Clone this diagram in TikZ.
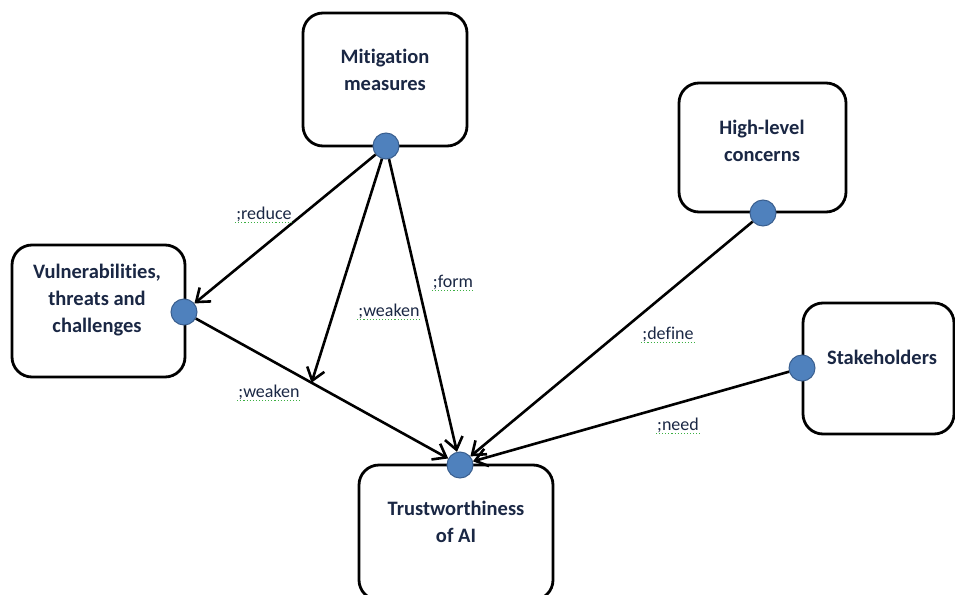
\documentclass[tikz,border=0pt]{standalone}
\usepackage{fontspec}
\setmainfont{Carlito}[Ligatures=NoCommon]
\usetikzlibrary{arrows.meta,calc}
\definecolor{txt}{HTML}{1A2744}
\definecolor{dotfill}{HTML}{4F81BD}
\definecolor{dotline}{HTML}{3A5F8F}
\definecolor{spell}{HTML}{3CB043}
\begin{document}
\begin{tikzpicture}[x=1pt,y=-1pt,
 box/.style={draw=black,line width=2.8pt,rounded corners=20pt,fill=white,inner sep=0pt},
 ttl/.style={font=\bfseries\fontsize{20.5}{27}\selectfont,text=txt,align=center,inner sep=0pt},
 port/.style={circle,fill=dotfill,draw=dotline,line width=1pt,minimum size=26pt,inner sep=0pt},
 conn/.style={line width=2.6pt,-{Straight Barb[length=12pt,width=18pt,line width=2.6pt]}},
 spellline/.style={draw=spell,dotted,line width=1.1pt},
 lbl/.style={font=\fontsize{18}{20}\selectfont,text=txt,inner sep=1pt,
   append after command={(\tikzlastnode.south west) edge[spellline] (\tikzlastnode.south east)}}]
\useasboundingbox (0,0) rectangle (955,594);
% boxes
\node[box,minimum width=164pt,minimum height=133pt] (mm) at (385,79.5) {};
\node[box,minimum width=167pt,minimum height=129pt] (hl) at (762.5,147.5) {};
\node[box,minimum width=173pt,minimum height=132pt] (vt) at (98.5,311) {};
\node[box,minimum width=151pt,minimum height=131pt] (sh) at (878.5,368.5) {};
\node[box,minimum width=194pt,minimum height=135pt] (tw) at (456,532.5) {};
% titles
\node[ttl] (mmt) at (385,70) {Mitigation\\measures};
\node[ttl] (hlt) at (762,141) {High-level\\concerns};
\node[ttl] (vtt) at (97,300) {Vulnerabilities,\\threats and\\challenges};
\node[ttl] (sht) at (882,357) {Stakeholders};
\node[ttl] (twt) at (456,522) {Trustworthiness\\of AI};
% ports
\node[port] (mmd) at (386,146) {};
\node[port] (hld) at (763,213) {};
\node[port] (vtd) at (184,312) {};
\node[port] (shd) at (802,368) {};
\node[port] (twd) at (460,465) {};
\coordinate (wk) at ($(vtd)!0.462!(twd)$);
% connectors
\draw[conn] (mmd) -- (vtd);
\draw[conn] (mmd) -- (wk);
\draw[conn] (mmd) -- (twd);
\draw[conn] (vtd) -- (twd);
\draw[conn] (hld) -- (twd);
\draw[conn] (shd) -- (twd);
% labels
\node[lbl] (l1) at (264,214) {;reduce};
\node[lbl] (l2) at (389,311) {;weaken};
\node[lbl] (l3) at (453,282) {;form};
\node[lbl] (l4) at (269,392) {;weaken};
\node[lbl] (l5) at (668,334) {;define};
\node[lbl] (l6) at (678,425) {;need};
\end{tikzpicture}
\end{document}
